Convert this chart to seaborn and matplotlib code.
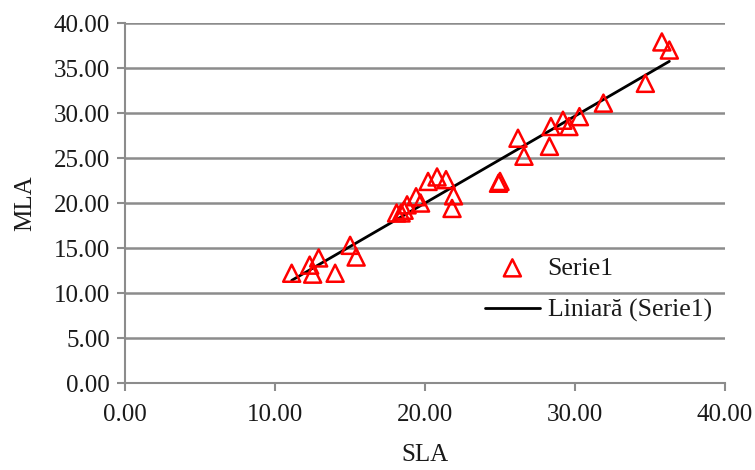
import numpy as np
import pandas as pd
import matplotlib
matplotlib.use('Agg')
import matplotlib.pyplot as plt
import seaborn as sns

# values
sla = [11.1, 12.3, 12.5, 12.9, 14.0, 15.0, 15.4, 18.1, 18.4, 18.6, 18.8,
       19.4, 19.7, 20.2, 20.8, 21.4, 21.9, 21.8, 24.9, 25.0, 26.2, 26.6,
       28.3, 28.4, 29.2, 29.6, 30.3, 31.9, 34.7, 35.8, 36.3]
mla = [12.2, 13.1, 12.1, 13.9, 12.2, 15.3, 14.0, 18.9, 18.9, 19.2, 19.8,
       20.7, 20.0, 22.4, 22.9, 22.6, 20.8, 19.4, 22.2, 22.4, 27.2, 25.2,
       26.3, 28.5, 29.2, 28.5, 29.6, 31.1, 33.3, 37.9, 37.0]
ticks = [0, 10, 20, 30, 40]
yticks = [0, 5, 10, 15, 20, 25, 30, 35, 40]

df = pd.DataFrame({'SLA': sla, 'MLA': mla})

sns.set_style('white')
plt.rcParams['font.family'] = ['Liberation Serif', 'DejaVu Serif']

fig = plt.figure(figsize=(7.55, 4.7), dpi=100)
ax = fig.add_axes([0.166, 0.185, 0.794, 0.766])

sns.scatterplot(data=df, x='SLA', y='MLA', marker='^', s=150,
                facecolor='none', edgecolor='#ff0000', linewidth=1.8,
                label='Serie1', ax=ax, zorder=3)
sns.regplot(data=df, x='SLA', y='MLA', scatter=False, ci=None, truncate=True,
            color='black', line_kws={'linewidth': 2.0}, label='Liniară (Serie1)',
            ax=ax)

ax.set_xlim(0, 40)
ax.set_ylim(0, 40)
ax.set_xticks(ticks)
ax.set_yticks(yticks)
ax.set_xticklabels([f'{t:.2f}' for t in ticks])
ax.set_yticklabels([f'{t:.2f}' for t in yticks])
ax.yaxis.grid(True, color='#8c8c8c', linewidth=1.8)
ax.set_axisbelow(True)
for s in ['top', 'right']:
    ax.spines[s].set_visible(False)
for s in ['left', 'bottom']:
    ax.spines[s].set_color('#8c8c8c')
    ax.spines[s].set_linewidth(1.5)
ax.tick_params(axis='both', which='major', length=6, width=1.5, color='#8c8c8c',
               labelsize=18, labelcolor='#1a1a1a', direction='out', pad=5,
               bottom=True, left=True)
ax.tick_params(axis='x', pad=9)
ax.set_xlabel('SLA', fontsize=18, labelpad=13, color='#1a1a1a')
ax.set_ylabel('MLA', fontsize=18, labelpad=13, color='#1a1a1a')

leg = ax.legend(loc='center left', bbox_to_anchor=(0.561, 0.26), frameon=False,
                fontsize=18.5, handlelength=2.15, labelspacing=0.75,
                handletextpad=0.3)
for t in leg.get_texts():
    t.set_color('#1a1a1a')

fig.savefig('out.png', dpi=100)
